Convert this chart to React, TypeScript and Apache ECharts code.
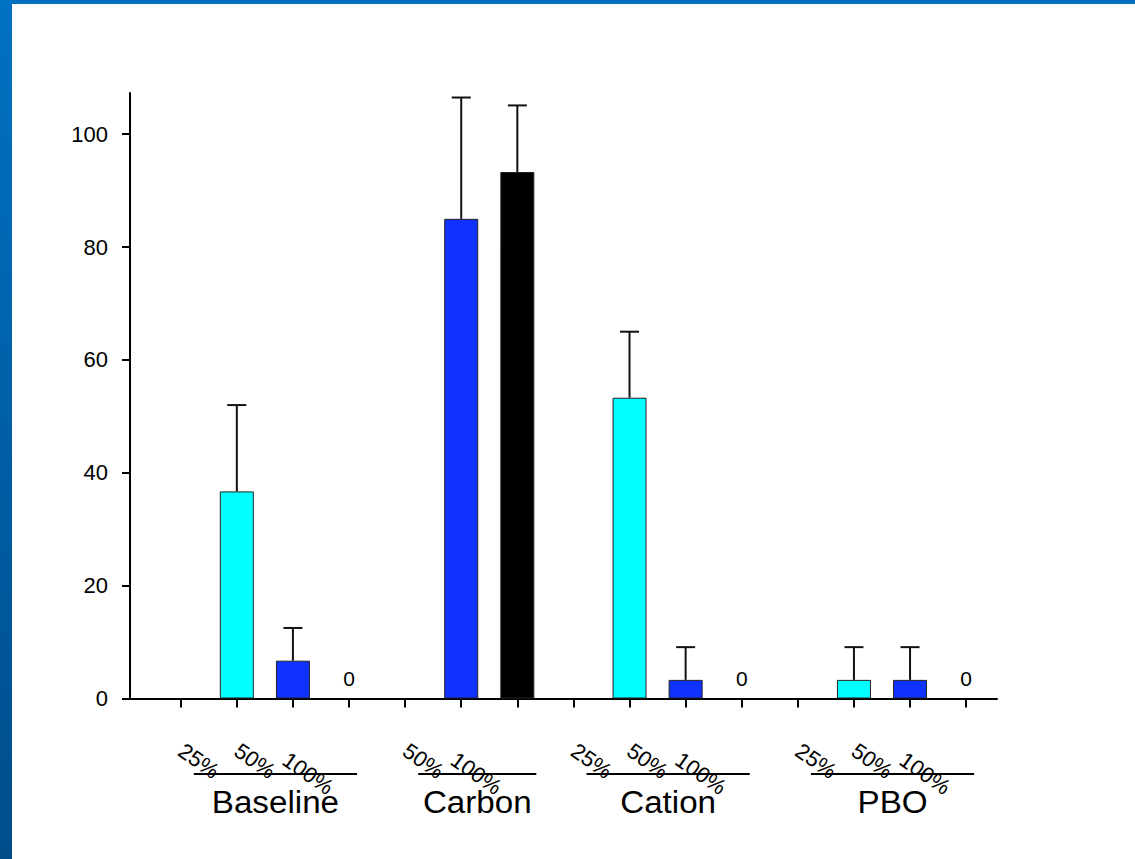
import React, { useEffect, useRef } from "react";
import * as echarts from "echarts";

// ---- data ----
const slotLabels = ["", "25%", "50%", "100%", "", "50%", "100%", "", "25%", "50%", "100%", "", "25%", "50%", "100%"];
const groupNames = ["Baseline", "Carbon", "Cation", "PBO"];
const groupFirstSlot = [1, 5, 8, 12];
const groupLastSlot = [3, 6, 10, 14];
const means: (number | null)[] = [null, 36.7, 6.7, 0, null, 85.0, 93.3, null, 53.3, 3.3, 0, null, 3.3, 3.3, 0];
const errors: (number | null)[] = [null, 15.3, 5.8, null, null, 21.5, 11.8, null, 11.7, 5.8, null, null, 5.8, 5.8, null];
const yTicks = [0, 20, 40, 60, 80, 100];
const xTicks = [0, 1, 2, 3, 4, 5, 6, 7, 8, 9, 10, 11, 12, 13, 14];
const levelColors: Record<string, string> = { "25%": "#00FFFF", "50%": "#0F32FF", "100%": "#000000" };

const FONT = "'Liberation Sans', Arial, Helvetica, sans-serif";

export default function App() {
  const ref = useRef<HTMLDivElement>(null);

  useEffect(() => {
    if (!ref.current) return;
    const chart = echarts.init(ref.current, undefined, { renderer: "svg" });

    const barData: any[] = [];
    means.forEach((m, i) => {
      if (m === null) return;
      barData.push({
        value: [i, m],
        itemStyle: { color: levelColors[slotLabels[i]], borderColor: "#222", borderWidth: m > 0 ? 1 : 0 },
      });
    });
    const errData: any[] = [];
    errors.forEach((e, i) => {
      if (e === null || means[i] === null) return;
      errData.push([i, means[i], e]);
    });

    chart.setOption({
      animation: false,
      backgroundColor: "#ffffff",
      grid: { left: 130, right: 138, top: 93, bottom: 160.5, containLabel: false },
      xAxis: {
        type: "value",
        min: -0.904,
        max: 14.55,
        axisLine: { show: true, onZero: false, lineStyle: { color: "#000", width: 2 } },
        axisTick: { show: true, inside: false, length: 9, customValues: xTicks, lineStyle: { color: "#000", width: 2 } },
        axisLabel: { show: false },
        splitLine: { show: false },
      },
      yAxis: {
        type: "value",
        min: 0,
        max: 107.3,
        axisLine: { show: true, onZero: false, lineStyle: { color: "#000", width: 2 } },
        axisTick: { show: true, inside: false, length: 8, customValues: yTicks, lineStyle: { color: "#000", width: 2 } },
        axisLabel: { show: true, customValues: yTicks, fontSize: 22, color: "#000", fontFamily: FONT, margin: 22 },
        splitLine: { show: false },
      },
      series: [
        {
          type: "bar",
          barWidth: 34,
          data: barData,
          label: {
            show: true,
            position: "top",
            distance: 10,
            fontSize: 21,
            color: "#000",
            fontFamily: FONT,
            formatter: (p: any) => (p.value[1] === 0 ? "0" : ""),
          },
          z: 2,
        },
        {
          type: "custom",
          z: 3,
          data: errData,
          encode: { x: 0, y: 1 },
          renderItem: (params: any, api: any) => {
            const x = api.value(0);
            const m = api.value(1);
            const e = api.value(2);
            const base = api.coord([x, m]);
            const top = api.coord([x, m + e]);
            const hw = 9.5;
            return {
              type: "group",
              children: [
                { type: "line", shape: { x1: base[0], y1: base[1], x2: top[0], y2: top[1] }, style: { stroke: "#111", lineWidth: 2 } },
                { type: "line", shape: { x1: top[0] - hw, y1: top[1], x2: top[0] + hw, y2: top[1] }, style: { stroke: "#111", lineWidth: 2 } },
              ],
            };
          },
        },
      ],
    });

    const px = (i: number) => chart.convertToPixel({ xAxisIndex: 0, yAxisIndex: 0 } as any, [i, 0]) as number[];
    const graphics: any[] = [
      { type: "rect", shape: { x: 0, y: 0, width: 1135, height: 4 }, style: { fill: "#0070C0" }, z: 10 },
      {
        type: "rect",
        shape: { x: 0, y: 0, width: 12, height: 859 },
        style: {
          fill: new echarts.graphic.LinearGradient(0, 0, 0, 1, [
            { offset: 0, color: "#0071C3" },
            { offset: 1, color: "#004D8A" },
          ]),
        },
        z: 10,
      },
    ];
    slotLabels.forEach((lab, i) => {
      if (!lab) return;
      const p = px(i);
      const long = lab.length > 3;
      graphics.push({
        type: "text",
        x: p[0] + (long ? -41 : -38),
        y: p[1] + (long ? 75 : 62.5),
        rotation: (-35 * Math.PI) / 180,
        style: { text: lab, fontSize: 22, fontFamily: FONT, fill: "#000", align: "center", verticalAlign: "middle" },
        z: 5,
      });
    });
    groupNames.forEach((g, k) => {
      const a = px(groupFirstSlot[k]);
      const b = px(groupLastSlot[k]);
      const x1 = a[0] - 43;
      const x2 = b[0] + (groupLastSlot[k] - groupFirstSlot[k] === 1 ? 19 : 8);
      const y = a[1] + 75.5;
      graphics.push({ type: "line", shape: { x1, y1: y, x2, y2: y }, style: { stroke: "#000", lineWidth: 2 }, z: 4 });
      graphics.push({
        type: "text",
        x: (x1 + x2) / 2,
        y: a[1] + 104,
        scaleX: 1.07,
        style: { text: g, fontSize: 31, fontFamily: FONT, fill: "#000", align: "center", verticalAlign: "middle" },
        z: 5,
      });
    });
    chart.setOption({ graphic: graphics });

    return () => chart.dispose();
  }, []);

  return <div ref={ref} style={{ position: "absolute", left: 0, top: 0, width: 1135, height: 859 }} />;
}
